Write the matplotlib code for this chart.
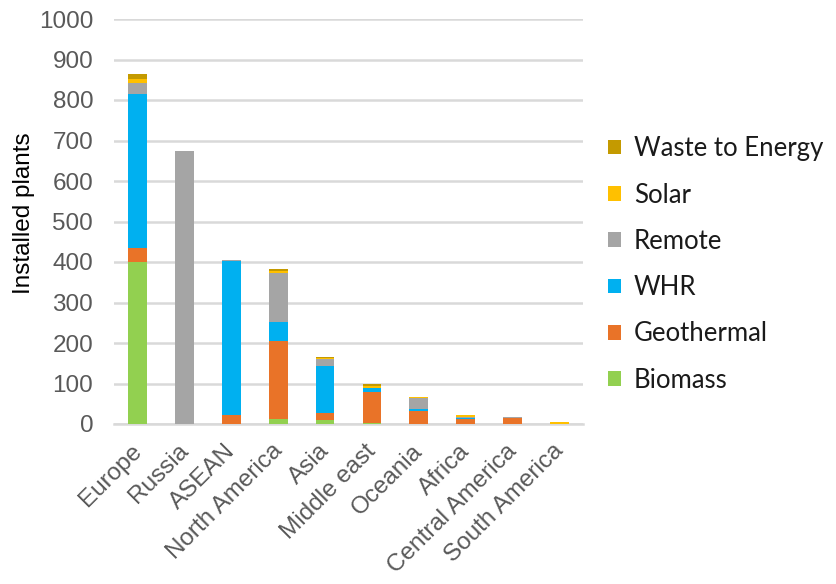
import numpy as np
import matplotlib.pyplot as plt
import matplotlib.transforms as mtrans

regions = ['Europe', 'Russia', 'ASEAN', 'North America', 'Asia', 'Middle east',
           'Oceania', 'Africa', 'Central America', 'South America']

biomass    = [400,   0,   0,  13, 10,  2,  0,  0,  0, 1]
geothermal = [ 34,   0,  23, 193, 17, 77, 33, 13, 15, 0]
whr        = [380,   0, 380,  45, 116, 10,  5,  3,  0, 0]
remote     = [ 27, 674,   2, 122, 17,  1, 26,  2,  2, 0]
solar      = [ 12,   0,   0,   5,  3,  5,  2,  3,  0, 3]
waste      = [ 11,   0,   0,   5,  3,  3,  0,  0,  0, 0]

series = [('Biomass', biomass, '#92D050'),
          ('Geothermal', geothermal, '#E97328'),
          ('WHR', whr, '#00B0F0'),
          ('Remote', remote, '#A5A5A5'),
          ('Solar', solar, '#FFC000'),
          ('Waste to Energy', waste, '#C49A00')]

fig = plt.figure(figsize=(8.36, 5.84), dpi=100)
ax = fig.add_axes([114/836, 1-424/584, (583-114)/836, (424-19)/584])

x = np.arange(len(regions))
bottom = np.zeros(len(regions))
for name, vals, col in series:
    ax.bar(x, vals, 0.4, bottom=bottom, color=col, label=name, zorder=3)
    bottom += np.array(vals)

ax.set_ylim(0, 1000)
ax.set_xlim(-0.5, len(regions) - 0.5)
ax.set_yticks(range(0, 1001, 100))
ax.grid(axis='y', color='#D9D9D9', linewidth=1.8, zorder=0)
for s in ['top', 'right', 'left']:
    ax.spines[s].set_visible(False)
ax.spines['bottom'].set_color('#D9D9D9')
ax.spines['bottom'].set_linewidth(1.8)
ax.tick_params(axis='both', length=0, labelsize=17.5, labelcolor='#595959')
ax.tick_params(axis='y', pad=15)
ax.tick_params(axis='x', pad=8)
for lab in ax.get_yticklabels():
    lab.set_fontfamily('Liberation Sans')
ax.set_xticks(x)
ax.set_xticklabels(regions, rotation=45, ha='right', rotation_mode='anchor',
                   fontfamily='Liberation Sans')
shift = mtrans.ScaledTranslation(-7/100, -5/100, fig.dpi_scale_trans)
for lab in ax.get_xticklabels():
    lab.set_transform(lab.get_transform() + shift)
ax.set_ylabel('Installed plants', fontsize=17.5, fontfamily='Liberation Sans')
ax.yaxis.set_label_coords(-0.168, 0.52)

handles, labels = ax.get_legend_handles_labels()
leg = fig.legend(handles[::-1], labels[::-1], loc='center left',
                 bbox_to_anchor=(608/836, 1-264.5/584), frameon=False,
                 prop={'family': 'Lato', 'size': 18.5}, handlelength=0.5,
                 handleheight=0.5, handletextpad=0.5, labelspacing=0.83,
                 borderpad=0, borderaxespad=0)
for t in leg.get_texts():
    t.set_color('#1A1A1A')

fig.savefig('out.png', dpi=100)
